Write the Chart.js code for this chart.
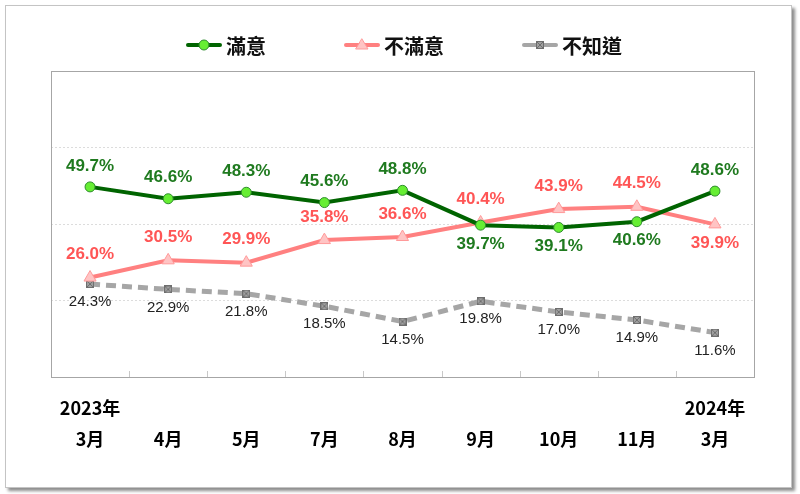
<!DOCTYPE html>
<html>
<head>
<meta charset="utf-8">
<script src="https://cdn.jsdelivr.net/npm/chart.js@4.4.1/dist/chart.umd.min.js"></script>
<style>
html, body { margin: 0; padding: 0; background: #fff; }
#frame {
    position: absolute; left: 5px; top: 5px; width: 787px; height: 483px;
    box-sizing: border-box; border: 1px solid #c4c4c4;
    box-shadow: 3px 3px 3px rgba(0,0,0,0.45); background: #fff;
}
#chart { position: absolute; left: 0; top: 0; }
</style>
</head>
<body>
<div id="frame"></div>
<canvas id="chart" width="800" height="494"></canvas>
<script>
// data
const years = ['2023年', '', '', '', '', '', '', '', '2024年'];
const months = ['3月', '4月', '5月', '7月', '8月', '9月', '10月', '11月', '3月'];
const satisfied = [49.7, 46.6, 48.3, 45.6, 48.8, 39.7, 39.1, 40.6, 48.6];
const dissatisfied = [26.0, 30.5, 29.9, 35.8, 36.6, 40.4, 43.9, 44.5, 39.9];
const unknown = [24.3, 22.9, 21.8, 18.5, 14.5, 19.8, 17.0, 14.9, 11.6];
const yTicks = [0, 20, 40, 60, 80];
const seriesNames = ['滿意', '不滿意', '不知道'];

// small square-with-x marker for the grey series
function crossBox(size) {
    const c = document.createElement('canvas');
    c.width = size; c.height = size;
    const g = c.getContext('2d');
    g.fillStyle = '#a0a0a0';
    g.fillRect(0, 0, size, size);
    g.strokeStyle = '#6e6e6e';
    g.lineWidth = 1;
    g.strokeRect(0.5, 0.5, size - 1, size - 1);
    g.beginPath();
    g.moveTo(1, 1); g.lineTo(size - 1, size - 1);
    g.moveTo(size - 1, 1); g.lineTo(1, size - 1);
    g.stroke();
    return c;
}
const greyMark = crossBox(8);

const ctx = document.getElementById('chart');

const pointLabels = {
    id: 'pointLabels',
    afterDatasetsDraw(chart) {
        const c = chart.ctx;
        chart.data.datasets.forEach((ds, i) => {
            const meta = chart.getDatasetMeta(i);
            const lab = ds.valueLabels;
            c.save();
            c.font = lab.font;
            c.fillStyle = lab.color;
            c.textAlign = 'center';
            c.textBaseline = 'middle';
            meta.data.forEach((pt, j) => {
                const below = lab.below.includes(j);
                const y = below ? pt.y + lab.offsetBelow : pt.y - lab.offsetAbove;
                c.fillText(ds.data[j].toFixed(1) + '%', pt.x, y);
            });
            c.restore();
        });
    }
};

const plotBox = {
    id: 'plotBox',
    beforeDatasetsDraw(chart) {
        const a = chart.chartArea;
        const c = chart.ctx;
        const xs = chart.scales.x;
        const n = chart.data.labels.length;
        c.save();
        c.strokeStyle = '#a6a6a6';
        c.lineWidth = 1;
        c.strokeRect(Math.round(a.left) + 0.5, Math.round(a.top) + 0.5,
            Math.round(a.right - a.left), Math.round(a.bottom - a.top));
        c.strokeStyle = '#c8c8c8';
        c.beginPath();
        for (let i = 1; i < n; i++) {
            const x = Math.round(xs.left + i * xs.width / n) + 0.5;
            c.moveTo(x, a.bottom);
            c.lineTo(x, a.bottom - 6);
        }
        c.stroke();
        c.restore();
    }
};

const topLegend = {
    id: 'topLegend',
    afterDraw(chart) {
        const c = chart.ctx;
        const lineW = 36, textGap = 4, itemGap = 78, cy = 45;
        c.save();
        c.font = 'bold 20px "Noto Sans CJK TC"';
        const widths = chart.data.datasets.map(ds => lineW + textGap + c.measureText(ds.label).width);
        const total = widths.reduce((s, w) => s + w, 0) + itemGap * (widths.length - 1);
        let x = 404 - total / 2;
        chart.data.datasets.forEach((ds, i) => {
            c.strokeStyle = ds.borderColor;
            c.lineWidth = 4;
            c.lineCap = 'round';
            c.setLineDash([]);
            c.beginPath();
            c.moveTo(x + 2, cy); c.lineTo(x + lineW - 2, cy);
            c.stroke();
            const mx = x + lineW / 2;
            c.lineWidth = 1;
            if (i === 0) {
                c.fillStyle = ds.pointBackgroundColor; c.strokeStyle = ds.pointBorderColor;
                c.beginPath(); c.arc(mx, cy, 5, 0, Math.PI * 2); c.fill(); c.stroke();
            } else if (i === 1) {
                c.fillStyle = ds.pointBackgroundColor; c.strokeStyle = ds.pointBorderColor;
                c.beginPath(); c.moveTo(mx, cy - 6); c.lineTo(mx + 6, cy + 4); c.lineTo(mx - 6, cy + 4);
                c.closePath(); c.fill(); c.stroke();
            } else {
                c.drawImage(greyMark, mx - 4, cy - 4);
            }
            c.fillStyle = '#111';
            c.textAlign = 'left';
            c.textBaseline = 'middle';
            c.fillText(ds.label, x + lineW + textGap, cy + 1);
            x += widths[i] + itemGap;
        });
        c.restore();
    }
};

new Chart(ctx, {
    type: 'line',
    data: {
        labels: months.map((m, i) => [years[i], m]),
        datasets: [{
            label: seriesNames[0],
            data: satisfied,
            borderColor: '#006400',
            borderWidth: 4,
            pointStyle: 'circle',
            pointRadius: 5,
            pointBackgroundColor: '#66ee33',
            pointBorderColor: '#2e8b2e',
            pointBorderWidth: 1,
            tension: 0,
            valueLabels: {
                font: 'bold 17px "Liberation Sans"', color: '#1f7a1f',
                below: [5, 6, 7], offsetAbove: 21, offsetBelow: 19
            }
        }, {
            label: seriesNames[1],
            data: dissatisfied,
            borderColor: '#ff8080',
            borderWidth: 4,
            pointStyle: 'triangle',
            pointRadius: 7,
            pointBackgroundColor: '#ffc4c4',
            pointBorderColor: '#ff9a9a',
            pointBorderWidth: 1,
            tension: 0,
            valueLabels: {
                font: 'bold 17px "Liberation Sans"', color: '#ff5555',
                below: [8], offsetAbove: 23, offsetBelow: 19
            }
        }, {
            label: seriesNames[2],
            data: unknown,
            borderColor: '#a6a6a6',
            borderWidth: 5,
            borderDash: [10, 6],
            pointStyle: greyMark,
            pointRadius: 4,
            tension: 0,
            valueLabels: {
                font: '15px "Liberation Sans"', color: '#222222',
                below: [0, 1, 2, 3, 4, 5, 6, 7, 8], offsetAbove: 18, offsetBelow: 18
            }
        }]
    },
    options: {
        responsive: false,
        animation: false,
        layout: {
            padding: { top: 71, left: 51, right: 46, bottom: 23 }
        },
        plugins: {
            legend: { display: false },
            tooltip: { enabled: false }
        },
        scales: {
            y: {
                min: yTicks[0],
                max: yTicks[yTicks.length - 1],
                ticks: { display: false, stepSize: yTicks[1] - yTicks[0] },
                grid: {
                    drawTicks: false,
                    color: (c) => (c.tick && (c.tick.value === yTicks[0] || c.tick.value === yTicks[yTicks.length - 1])) ? 'rgba(0,0,0,0)' : '#dcdcdc',
                },
                border: { display: false, dash: [2, 2] }
            },
            x: {
                offset: true,
                grid: { display: false, drawTicks: false },
                border: { display: false },
                ticks: {
                    color: '#000',
                    padding: 16,
                    maxRotation: 0,
                    autoSkip: false,
                    font: { family: '"Noto Sans CJK TC"', size: 18, weight: 'bold', lineHeight: '31px' }
                }
            }
        }
    },
    plugins: [plotBox, pointLabels, topLegend]
});
</script>
</body>
</html>
